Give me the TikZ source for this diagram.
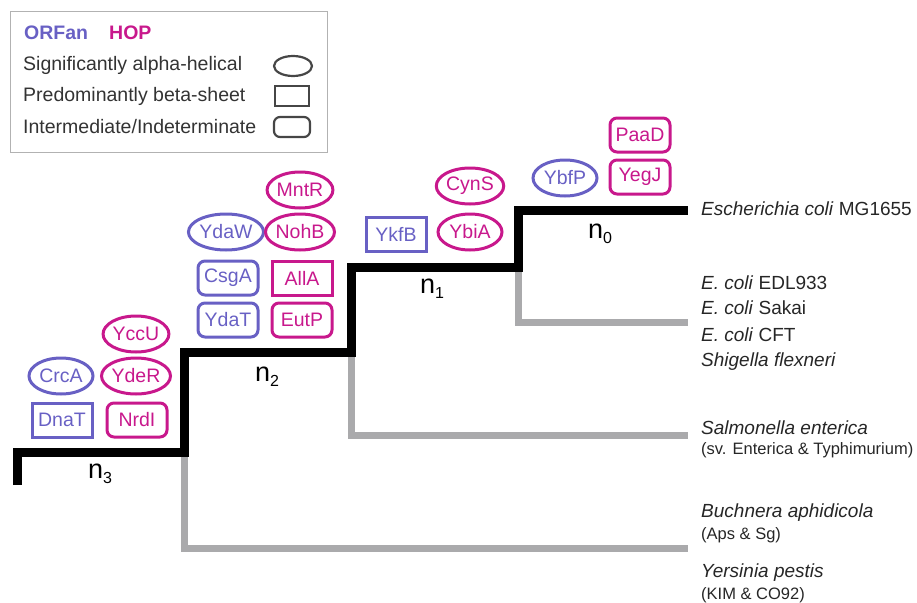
\documentclass[tikz,border=0pt]{standalone}
\usepackage{fontspec}
\setmainfont{Liberation Sans}
\usepackage{tikz}
\usetikzlibrary{shapes.geometric}

\definecolor{orfblue}{RGB}{104,96,196}
\definecolor{hopred}{RGB}{200,24,140}
\definecolor{legendgray}{RGB}{70,70,70}
\definecolor{branchgray}{RGB}{170,170,172}

\tikzset{
  gene/.style={draw, line width=3pt, inner sep=0pt, minimum width=60pt,
    minimum height=34pt, font=\fontsize{19.5}{20}\selectfont},
  orfan/.style={gene, draw=orfblue, text=orfblue},
  hop/.style={gene, draw=hopred, text=hopred},
  helical/.style={ellipse, minimum width=64pt, minimum height=36pt},
  sheet/.style={rectangle},
  indet/.style={rectangle, rounded corners=7pt},
  key/.style={draw=legendgray, line width=2.2pt, inner sep=0pt,
    minimum width=34pt, minimum height=20pt},
  legtext/.style={anchor=west, inner sep=0pt, text=black!80,
    font=\fontsize{19.5}{20}\selectfont},
  species/.style={anchor=west, inner sep=0pt, text=black!85,
    font=\fontsize{19}{20}\selectfont},
  strain/.style={anchor=west, inner sep=0pt, text=black!85,
    font=\fontsize{16.5}{18}\selectfont},
  nodelab/.style={inner sep=0pt, font=\fontsize{27}{28}\selectfont},
  mainline/.style={line width=9pt, black, line join=miter},
  sideline/.style={line width=7pt, branchgray, line join=miter}
}

\begin{document}
\begin{tikzpicture}[x=1pt, y=-1pt]
  \useasboundingbox (0,0) rectangle (917,602);

  % legend
  \draw[gray!60, line width=1pt] (10,12) rectangle (327,152);
  \node[anchor=west, inner sep=0pt, text=orfblue, font=\fontsize{19.5}{20}\selectfont\bfseries] (orflab) at (24,33) {ORFan};
  \node[anchor=west, inner sep=0pt, text=hopred, font=\fontsize{19.5}{20}\selectfont\bfseries] (hoplab) at (109,33) {HOP};
  \node[legtext] (alpha) at (23,65) {Significantly alpha-helical};
  \node[legtext] (beta) at (23,96) {Predominantly beta-sheet};
  \node[legtext] (inter) at (23,127) {Intermediate/Indeterminate};
  \node[key, ellipse, minimum width=38pt] (kalpha) at (293,66) {};
  \node[key] (kbeta) at (292,96) {};
  \node[key, rounded corners=6pt, minimum width=36pt] (kinter) at (292,127) {};

  % tree
  \coordinate (root) at (17,485);
  \coordinate (n3) at (184,452);
  \coordinate (n2) at (351,352);
  \coordinate (n1) at (518,267);
  \coordinate (n0) at (688,210);
  \coordinate (yers) at (688,548);
  \coordinate (salm) at (688,435);
  \coordinate (ecoli) at (688,322);

  \draw[sideline] (n3) |- (yers);
  \draw[sideline] (n2) |- (salm);
  \draw[sideline] (n1) |- (ecoli);
  \draw[mainline] (root) |- (n3) |- (n2) |- (n1) |- (n0);

  \node[nodelab] (l3) at (100,474) {n\raisebox{-5pt}{\fontsize{16}{16}\selectfont 3}};
  \node[nodelab] (l2) at (267,377) {n\raisebox{-5pt}{\fontsize{16}{16}\selectfont 2}};
  \node[nodelab] (l1) at (432,289) {n\raisebox{-5pt}{\fontsize{16}{16}\selectfont 1}};
  \node[nodelab] (l0) at (600,234) {n\raisebox{-5pt}{\fontsize{16}{16}\selectfont 0}};

  % species
  \node[species] (mg) at (701,209) {\textit{Escherichia coli} MG1655};
  \node[species] (edl) at (701,283) {\textit{E. coli} EDL933};
  \node[species] (sakai) at (701,308) {\textit{E. coli} Sakai};
  \node[species] (cft) at (701,335) {\textit{E. coli} CFT};
  \node[species] (shig) at (701,362) {\textit{Shigella flexneri}};
  \node[species] (salmlab) at (701,428) {\textit{Salmonella enterica}};
  \node[strain] (salmsv) at (701,450) {(sv. Enterica \& Typhimurium)};
  \node[species] (buch) at (701,513) {\textit{Buchnera aphidicola}};
  \node[strain] (buchsv) at (701,535) {(Aps \& Sg)};
  \node[species] (yerslab) at (701,573) {\textit{Yersinia pestis}};
  \node[strain] (yerssv) at (701,595) {(KIM \& CO92)};

  % genes at n3
  \node[orfan, helical] (crca) at (61,376) {CrcA};
  \node[orfan, sheet] (dnat) at (62,420) {DnaT};
  \node[hop, helical] (yccu) at (136,334) {YccU};
  \node[hop, helical] (yder) at (136,376) {YdeR};
  \node[hop, indet] (nrdi) at (137,420) {NrdI};

  % genes at n2
  \node[orfan, helical] (ydaw) at (226,232) {YdaW};
  \node[orfan, indet] (csga) at (228,278) {CsgA};
  \node[orfan, indet] (ydat) at (228,320) {YdaT};
  \node[hop, helical] (mntr) at (300,190) {MntR};
  \node[hop, helical] (nohb) at (300,232) {NohB};
  \node[hop, sheet] (alla) at (302,278) {AllA};
  \node[hop, indet] (eutp) at (302,320) {EutP};

  % genes at n1
  \node[orfan, sheet] (ykfb) at (396,234) {YkfB};
  \node[hop, helical] (cyns) at (470,186) {CynS};
  \node[hop, helical] (ybia) at (470,232) {YbiA};

  % genes at n0
  \node[orfan, helical] (ybfp) at (565,178) {YbfP};
  \node[hop, indet] (paad) at (640,135) {PaaD};
  \node[hop, indet] (yegj) at (640,177) {YegJ};
\end{tikzpicture}
\end{document}
